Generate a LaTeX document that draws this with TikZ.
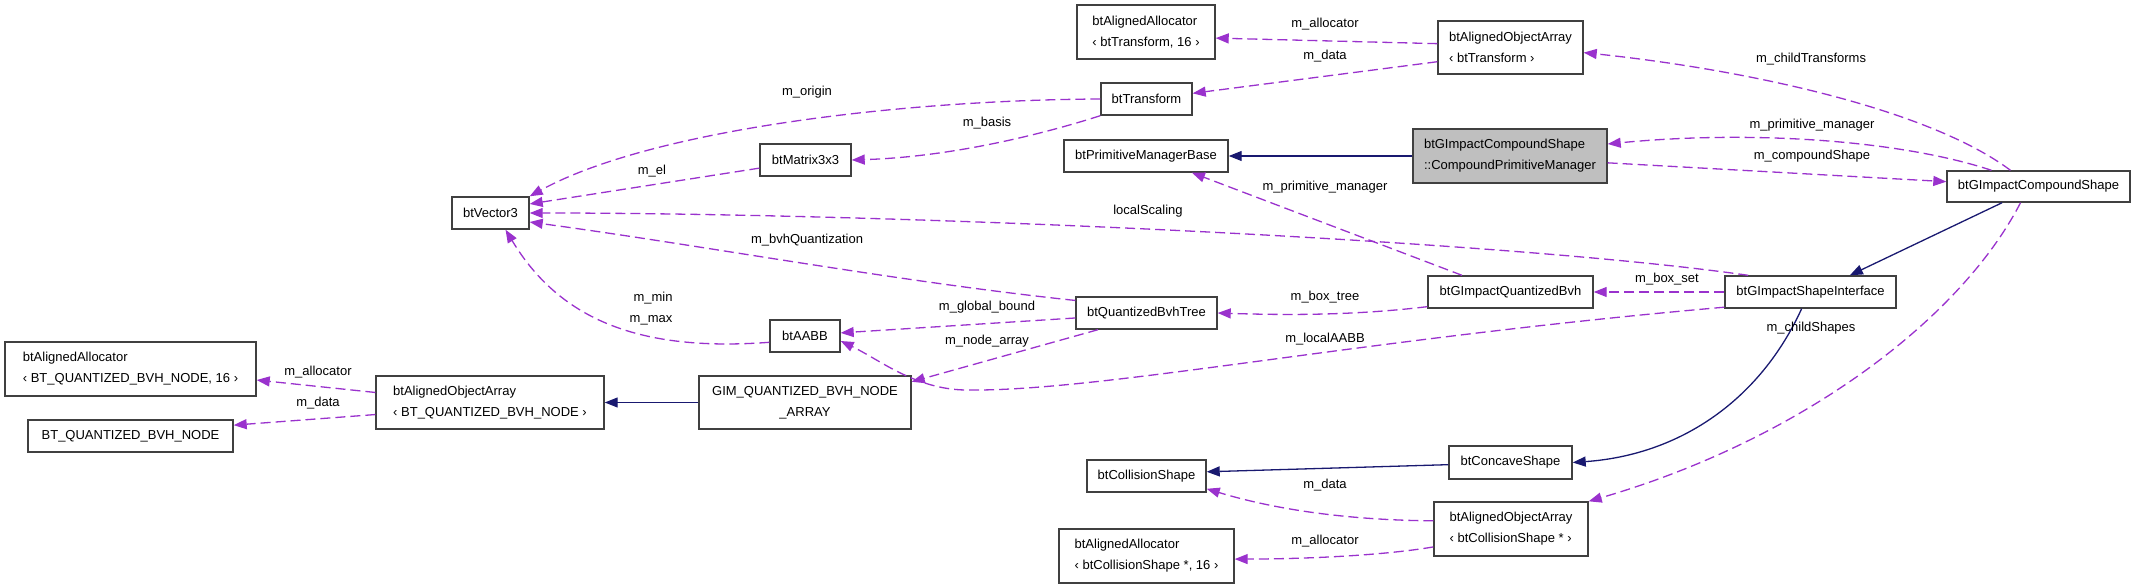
\documentclass[tikz,border=0pt]{standalone}
\usepackage{fontspec}
\setmainfont{Liberation Sans}
\usetikzlibrary{arrows.meta}

\definecolor{edgeviolet}{HTML}{9A32CD}
\definecolor{edgenavy}{HTML}{191970}
\definecolor{boxgrey}{HTML}{404040}
\definecolor{curfill}{HTML}{BFBFBF}

\begin{document}
\begin{tikzpicture}[x=1pt,y=-1pt,
  cls/.style={draw=boxgrey,line width=1.4pt,fill=white,inner sep=0pt,align=left,font=\fontsize{13}{21}\selectfont},
  cur/.style={cls,fill=curfill},
  mem/.style={draw=edgeviolet,line width=1.3pt,dash pattern=on 10pt off 5pt,-{Triangle[length=13pt,width=10pt]}},
  inh/.style={draw=edgenavy,line width=1.3pt,-{Triangle[length=13pt,width=10pt]}},
  lbl/.style={inner sep=0pt,font=\fontsize{13}{15}\selectfont}]
\useasboundingbox (0,0) rectangle (2136,588);

% classes
\node[cls,minimum width=77pt,minimum height=32pt] (vec) at (490.5,213) {btVector3};
\node[cls,minimum width=138pt,minimum height=54pt] (allocT) at (1146,32) {btAlignedAllocator\\‹ btTransform, 16 ›};
\node[cls,minimum width=91pt,minimum height=32pt] (trans) at (1146.5,99) {btTransform};
\node[cls,minimum width=91pt,minimum height=32pt] (mat) at (805.5,160) {btMatrix3x3};
\node[cls,minimum width=164pt,minimum height=32pt] (pmb) at (1146,156) {btPrimitiveManagerBase};
\node[cls,minimum width=145pt,minimum height=53pt] (arrT) at (1510.5,47.5) {btAlignedObjectArray\\‹ btTransform ›};
\node[cur,minimum width=194pt,minimum height=54pt] (cpm) at (1510,156) {btGImpactCompoundShape\\::CompoundPrimitiveManager};
\node[cls,minimum width=183pt,minimum height=31pt] (gcs) at (2038.5,186.5) {btGImpactCompoundShape};
\node[cls,minimum width=165pt,minimum height=32pt] (gqb) at (1510.5,292) {btGImpactQuantizedBvh};
\node[cls,minimum width=171pt,minimum height=32pt] (gsi) at (1810.5,292) {btGImpactShapeInterface};
\node[cls,minimum width=141pt,minimum height=32pt] (qbt) at (1146.5,313) {btQuantizedBvhTree};
\node[cls,minimum width=70pt,minimum height=32pt] (aabb) at (805,336) {btAABB};
\node[cls,align=center,minimum width=212pt,minimum height=53pt] (gim) at (805,402.5) {GIM\_QUANTIZED\_BVH\_NODE\\\_ARRAY};
\node[cls,minimum width=251pt,minimum height=54pt] (allocN) at (130.5,369) {btAlignedAllocator\\‹ BT\_QUANTIZED\_BVH\_NODE, 16 ›};
\node[cls,minimum width=205pt,minimum height=32pt] (nodeN) at (130.5,436) {BT\_QUANTIZED\_BVH\_NODE};
\node[cls,minimum width=228pt,minimum height=53pt] (arrN) at (490,402.5) {btAlignedObjectArray\\‹ BT\_QUANTIZED\_BVH\_NODE ›};
\node[cls,minimum width=119pt,minimum height=32pt] (cs) at (1146.5,476) {btCollisionShape};
\node[cls,minimum width=175pt,minimum height=54pt] (allocC) at (1146.5,556) {btAlignedAllocator\\‹ btCollisionShape *, 16 ›};
\node[cls,minimum width=123pt,minimum height=33pt] (conc) at (1510.5,462.5) {btConcaveShape};
\node[cls,minimum width=154pt,minimum height=54pt] (arrC) at (1511,529) {btAlignedObjectArray\\‹ btCollisionShape * ›};

% members
\draw[mem] (trans.west) .. controls (900,100) and (650,130) .. (vec.north east);
\draw[mem] (mat.190) -- (vec.13);
\draw[mem] (gsi.165) .. controls (1500,240) and (900,213) .. (vec.east);
\draw[mem] (qbt.170) .. controls (900,282) and (700,245) .. (vec.-13);
\draw[mem] (aabb.190) .. controls (640,352) and (560,320) .. (vec.-48);
\draw[mem] (trans.south west) .. controls (1040,135) and (950,157) .. (mat.east);
\draw[mem] (arrT.177) -- (allocT.-5);
\draw[mem] (arrT.191) -- (trans.7);
\draw[mem] (gcs.150) .. controls (1930,110) and (1750,70) .. (arrT.-4);
\draw[mem] (gcs.161) .. controls (1900,140) and (1750,130) .. (cpm.7);
\draw[mem] (cpm.-4) -- (gcs.177);
\draw[mem] (gqb.161) -- (pmb.-20);
\draw[mem] (gsi.west) -- (gqb.east);
\draw[mem] (gqb.190) .. controls (1350,316) and (1280,315) .. (qbt.east);
\draw[mem] (qbt.184) -- (aabb.5);
\draw[mem] (qbt.199) -- (gim.11);
\draw[mem] (gsi.190) .. controls (1350,340) and (1100,392) .. (965,390) .. controls (915,389) and (880,360) .. (aabb.-8);
\draw[mem] (arrN.175) -- (allocN.-5);
\draw[mem] (arrN.186) -- (nodeN.6);
\draw[mem] (gcs.222) .. controls (1960,320) and (1800,440) .. (arrC.north east);
\draw[mem] (arrC.174) .. controls (1330,520) and (1260,505) .. (cs.-12);
\draw[mem] (arrC.193) .. controls (1380,556) and (1300,559) .. (allocC.-2);

% inheritance
\draw[inh] (cpm.west) -- (pmb.east);
\draw[inh] (gim.west) -- (arrN.east);
\draw[inh] (gcs.204) -- (gsi.23);
\draw[inh] (gsi.242) .. controls (1760,400) and (1680,455) .. (conc.east);
\draw[inh] (conc.182) -- (cs.4);

% labels
\node[lbl] (lAllocT) at (1325,24) {m\_allocator};
\node[lbl] (lDataT) at (1325,56) {m\_data};
\node[lbl] (lOrigin) at (807,92) {m\_origin};
\node[lbl] (lBasis) at (987,123) {m\_basis};
\node[lbl] (lEl) at (652,171) {m\_el};
\node[lbl] (lChildT) at (1811,59) {m\_childTransforms};
\node[lbl] (lPrimU) at (1812,125) {m\_primitive\_manager};
\node[lbl] (lComp) at (1812,156) {m\_compoundShape};
\node[lbl] (lPrimL) at (1325,187) {m\_primitive\_manager};
\node[lbl] (lScale) at (1148,211) {localScaling};
\node[lbl] (lBvhQ) at (807,240) {m\_bvhQuantization};
\node[lbl] (lBoxSet) at (1667,279) {m\_box\_set};
\node[lbl] (lBoxTree) at (1325,297) {m\_box\_tree};
\node[lbl] (lMin) at (653,298) {m\_min};
\node[lbl] (lMax) at (651,320) {m\_max};
\node[lbl] (lGlobal) at (987,307) {m\_global\_bound};
\node[lbl] (lNodeArr) at (987,341) {m\_node\_array};
\node[lbl] (lLocal) at (1325,339) {m\_localAABB};
\node[lbl] (lChildS) at (1811,328) {m\_childShapes};
\node[lbl] (lAllocN) at (318,372) {m\_allocator};
\node[lbl] (lDataN) at (318,403) {m\_data};
\node[lbl] (lDataC) at (1325,485) {m\_data};
\node[lbl] (lAllocC) at (1325,541) {m\_allocator};
\end{tikzpicture}
\end{document}
